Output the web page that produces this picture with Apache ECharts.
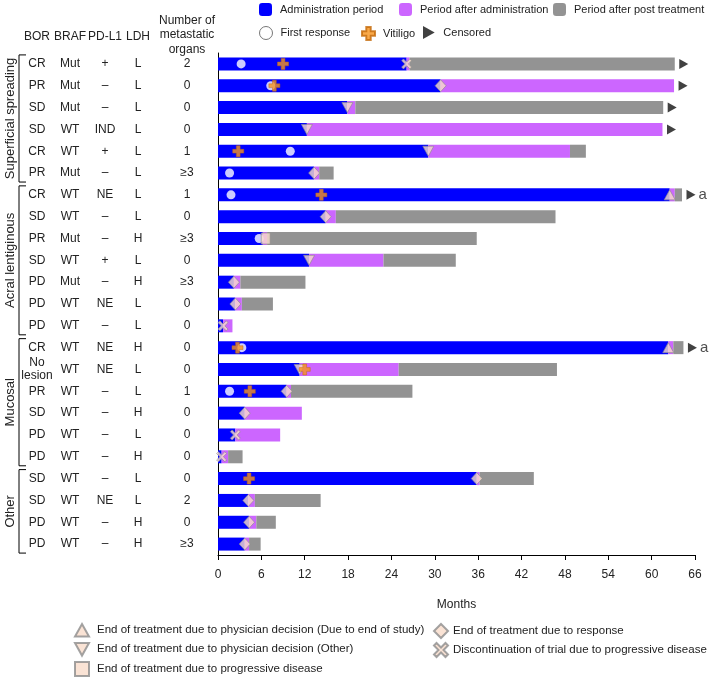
<!DOCTYPE html>
<html><head><meta charset="utf-8">
<script src="https://cdn.jsdelivr.net/npm/echarts@6/dist/echarts.min.js"></script>
<style>html,body{margin:0;padding:0;background:#fff}#c{width:709px;height:677px}</style>
</head><body><div id="c"></div>
<script>
// ---- table columns ----
const bor    = ['CR','PR','SD','SD','CR','PR','CR','SD','PR','SD','PD','PD','PD','CR','No\nlesion','PR','SD','PD','PD','SD','SD','PD','PD'];
const braf   = ['Mut','Mut','Mut','WT','WT','Mut','WT','WT','Mut','WT','Mut','WT','WT','WT','WT','WT','WT','WT','WT','WT','WT','WT','WT'];
const pdl1   = ['+','–','–','IND','+','–','NE','–','–','+','–','NE','–','NE','NE','–','–','–','–','–','NE','–','–'];
const ldh    = ['L','L','L','L','L','L','L','L','H','L','H','L','L','H','L','L','H','L','H','L','L','H','H'];
const organs = ['2','0','0','0','1','≥3','1','0','≥3','0','≥3','0','0','0','0','1','0','0','0','0','2','0','≥3'];
const groups = [['Superficial spreading',0,5],['Acral lentiginous',6,12],['Mucosal',13,18],['Other',19,22]];
// ---- bar segment ends (months) ----
const adminEnd      = [26.1,30.8,17.9,12.3,29.1,13.3,62.5,14.9,6.2,12.6,2.2,2.4,0.7,62.3,11.3,9.5,3.7,2.4,0.5,35.8,4.2,4.3,3.7];
const afterAdminEnd = [26.5,63.1,19.0,61.5,48.7,14.0,63.2,16.3,6.8,22.9,3.1,3.3,2.0,63.0,25.0,10.1,11.6,8.6,1.4,36.2,5.1,5.3,4.3];
const postEnd       = [63.2,63.1,61.6,61.5,50.9,16.0,64.2,46.7,35.8,32.9,12.1,7.6,2.0,64.4,46.9,26.9,11.6,8.6,3.4,43.7,14.2,8.0,5.9];
// ---- event markers [months, row] ----
const firstResponse = [[3.2,0],[7.3,1],[10.0,4],[1.6,5],[1.8,6],[5.7,8],[3.3,13],[1.6,15]];
const vitiligo      = [[9.0,0],[7.8,1],[2.8,4],[14.3,6],[2.7,13],[12.0,14],[4.4,15],[4.3,19]];
const endStudy      = [[62.5,6],[62.3,13]];
const endOther      = [[17.9,2],[12.3,3],[29.1,4],[12.6,9],[11.3,14]];
const endPD         = [[6.6,8]];
const endResponse   = [[30.8,1],[13.3,5],[14.9,7],[2.2,10],[2.4,11],[9.5,15],[3.7,16],[35.8,19],[4.2,20],[4.3,21],[3.7,22]];
const discontinued  = [[26.1,0],[0.7,12],[2.4,17],[0.5,18]];
const censoredRows  = [0,1,2,3,6,13];
const footnoteRows  = [6,13];
const xTicks = {min:0, max:66, interval:6};

const rowIds = bor.map((_, i) => 'r' + i);
const pinkVals = adminEnd.map((v,i) => +(afterAdminEnd[i]-v).toFixed(3));
const grayVals = afterAdminEnd.map((v,i) => +(postEnd[i]-v).toFixed(3));

const BLUE='#0000ff', PINK='#cc66ff', GRAY='#939393', PEACH='#f9dccb', PEACH_B='#8c8c8c', ORANGE='#f7941d';
const FONT='Liberation Sans, Arial, sans-serif';
const TXT='#222';
const names = {
  a:'Administration period', p:'Period after administration', g:'Period after post treatment',
  fr:'First response', v:'Vitiligo', c:'Censored',
  es:'End of treatment due to physician decision (Due to end of study)',
  eo:'End of treatment due to physician decision (Other)',
  ep:'End of treatment due to progressive disease',
  er:'End of treatment due to response',
  dc:'Discontinuation of trial due to progressive disease'
};
const PLUS='path://M3.3,0H6.7V3.3H10V6.7H6.7V10H3.3V6.7H0V3.3H3.3Z';
const CROSS='path://M1.8,0L5,3.2L8.2,0L10,1.8L6.8,5L10,8.2L8.2,10L5,6.8L1.8,10L0,8.2L3.2,5L0,1.8Z';
const TRI_UP='path://M5,0L10,9L0,9Z';
const TRI_DN='path://M0,0L10,0L5,9Z';
const ARROW='path://M0,0L9,5L0,10Z';

const chart = echarts.init(document.getElementById('c'));
const gridLeft = 218;
function tableAxis(data, cx){
  return {type:'category', data:data, inverse:true, position:'left', offset:gridLeft-cx,
    axisLine:{show:false}, axisTick:{show:false},
    axisLabel:{margin:0, align:'center', fontSize:12, color:TXT, fontFamily:FONT, lineHeight:13}};
}
function oneLegend(name, left, top, size, fs, gap){
  return {selectedMode:false, left:left, top:top, padding:0, itemWidth:size, itemHeight:size, itemGap:0,
    textStyle:{fontSize:fs, color:TXT, fontFamily:FONT, padding:[0,0,0,gap]}, data:[name]};
}
const markerStyle = {color:PEACH, borderColor:PEACH_B, borderWidth:0.8};
const option = {
  animation:false,
  textStyle:{fontFamily:FONT},
  grid:{left:gridLeft, right:14, top:53, bottom:122, containLabel:false},
  xAxis:{type:'value', min:xTicks.min, max:xTicks.max, interval:xTicks.interval,
    splitLine:{show:false},
    axisLine:{show:true, lineStyle:{color:'#000', width:1}},
    axisTick:{show:true, length:5, lineStyle:{color:'#000'}},
    axisLabel:{fontSize:12, color:TXT, margin:14, fontFamily:FONT},
    name:'Months', nameLocation:'middle', nameGap:44, nameTextStyle:{fontSize:12, color:TXT, fontFamily:FONT}},
  yAxis:[
    {type:'category', data:rowIds, inverse:true, axisLine:{show:true, lineStyle:{color:'#000', width:1}},
     axisTick:{show:false}, axisLabel:{show:false}},
    tableAxis(bor,37), tableAxis(braf,70), tableAxis(pdl1,105), tableAxis(ldh,138), tableAxis(organs,187)
  ],
  legend:[
    oneLegend(names.a, 259, 3, 13, 11, 3),
    oneLegend(names.p, 399, 3, 13, 11, 3),
    oneLegend(names.g, 553, 3, 13, 11, 3),
    oneLegend({name:names.fr, itemStyle:{color:'#fff', borderColor:'#555', borderWidth:1}}, 259, 26, 13, 11, 3),
    oneLegend(names.v, 361, 26, 13, 11, 3),
    oneLegend(names.c, 423, 26, 13, 11, 3),
    oneLegend(names.es, 74, 623, 14, 11.5, 3),
    oneLegend(names.eo, 74, 642, 14, 11.5, 3),
    oneLegend(names.ep, 74, 661, 14, 11.5, 3),
    oneLegend(names.er, 433, 623, 14, 11.5, 0),
    oneLegend(names.dc, 433, 642, 14, 11.5, 0)
  ],
  series:[
    {name:names.a, type:'bar', stack:'t', barWidth:13, data:adminEnd, itemStyle:{color:BLUE}, z:2},
    {name:names.p, type:'bar', stack:'t', barWidth:13, data:pinkVals, itemStyle:{color:PINK}, z:2},
    {name:names.g, type:'bar', stack:'t', barWidth:13, data:grayVals, itemStyle:{color:GRAY}, z:2},
    {name:names.fr, type:'scatter', symbol:'circle', symbolSize:9, data:firstResponse, itemStyle:{color:'#fff'}, z:3},
    {name:names.es, type:'scatter', symbol:TRI_UP, symbolSize:[11,10], data:endStudy, itemStyle:markerStyle, z:4},
    {name:names.eo, type:'scatter', symbol:TRI_DN, symbolSize:[11,10], data:endOther, itemStyle:markerStyle, z:4},
    {name:names.ep, type:'scatter', symbol:'rect', symbolSize:[9,11], data:endPD, itemStyle:markerStyle, z:4},
    {name:names.er, type:'scatter', symbol:'diamond', symbolSize:[11,12], data:endResponse, itemStyle:markerStyle, z:4},
    {name:names.dc, type:'scatter', symbol:CROSS, symbolSize:10, data:discontinued, itemStyle:markerStyle, z:4},
    {name:names.v, type:'scatter', symbol:PLUS, symbolSize:11, data:vitiligo, itemStyle:{color:ORANGE, borderColor:'#c46a0a', borderWidth:0.6}, z:5},
    {name:names.c, type:'scatter', symbol:ARROW, symbolSize:[9,10], symbolOffset:[9,0], itemStyle:{color:'#111'}, z:5,
     data:censoredRows.map(i => ({value:[postEnd[i], i],
       label:{show:footnoteRows.includes(i), formatter:'a', position:'right', distance:3, fontSize:15, color:TXT, fontFamily:FONT}}))}
  ]
};
chart.setOption(option);

// headers, group brackets and rotated group names
const g = [];
const hdr = [['BOR',37],['BRAF',70],['PD-L1',105],['LDH',138]];
hdr.forEach(([t,x]) => g.push({type:'text', x:x, y:37, style:{text:t, fontSize:12, fill:TXT, fontFamily:FONT, align:'center', verticalAlign:'middle'}}));
g.push({type:'text', x:187, y:35, style:{text:'Number of\nmetastatic\norgans', fontSize:12, lineHeight:14.5, fill:TXT, fontFamily:FONT, align:'center', verticalAlign:'middle'}});
groups.forEach(([name, s, e]) => {
  const y0 = chart.convertToPixel({yAxisIndex:0}, rowIds[s]) - 9;
  const y1 = chart.convertToPixel({yAxisIndex:0}, rowIds[e]) + 9;
  g.push({type:'polyline', shape:{points:[[26,y0],[19,y0],[19,y1],[26,y1]]}, style:{stroke:'#000', lineWidth:1, fill:null}});
  g.push({type:'text', x:10, y:(y0+y1)/2, rotation:Math.PI/2,
    style:{text:name, fontSize:13, fill:TXT, fontFamily:FONT, align:'center', verticalAlign:'middle'}});
});
chart.setOption({graphic:g});
</script>
</body></html>
